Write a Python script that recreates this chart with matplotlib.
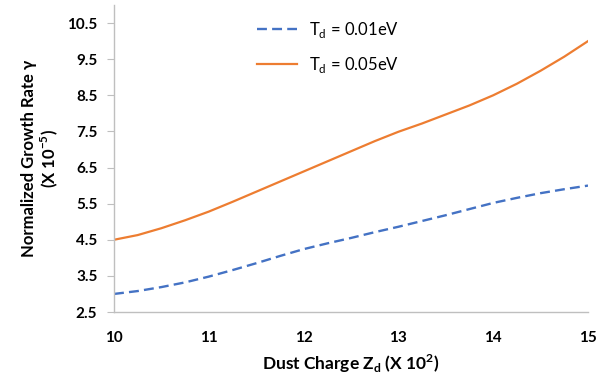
import matplotlib
matplotlib.use("Agg")
import matplotlib.pyplot as plt

plt.rcParams['font.family'] = ['Lato', 'DejaVu Sans']
plt.rcParams['mathtext.fontset'] = 'custom'
plt.rcParams['mathtext.rm'] = 'Lato'
plt.rcParams['mathtext.bf'] = 'Lato:bold'

zd = [10, 10.25, 10.5, 10.75, 11, 11.25, 11.5, 11.75, 12, 12.25, 12.5, 12.75,
      13, 13.25, 13.5, 13.75, 14, 14.25, 14.5, 14.75, 15]
rate_001 = [3.0, 3.08, 3.19, 3.32, 3.48, 3.66, 3.85, 4.05, 4.24, 4.40, 4.55, 4.71,
            4.86, 5.02, 5.18, 5.35, 5.52, 5.66, 5.79, 5.90, 6.0]
rate_005 = [4.5, 4.63, 4.82, 5.04, 5.28, 5.55, 5.83, 6.11, 6.39, 6.67, 6.95, 7.23,
            7.49, 7.72, 7.97, 8.22, 8.5, 8.82, 9.18, 9.57, 10.0]
yticks = [2.5, 3.5, 4.5, 5.5, 6.5, 7.5, 8.5, 9.5, 10.5]
xticks = [10, 11, 12, 13, 14, 15]

fig = plt.figure(figsize=(5.98, 3.78), dpi=100)
ax = fig.add_axes([114/598, 1-312/378, (588-114)/598, (312-5)/378])

ax.plot(zd, rate_001, color='#4472C4', lw=1.7, dashes=(4.2, 2.2),
        label=r'T$_\mathrm{d}$ = 0.01eV')
ax.plot(zd, rate_005, color='#ED7D31', lw=1.6,
        label=r'T$_\mathrm{d}$ = 0.05eV')

ax.set_xlim(10, 15)
ax.set_ylim(2.5, 11)
ax.set_xticks(xticks)
ax.set_yticks(yticks)
ax.set_xticklabels([str(t) for t in xticks], fontweight='bold', fontsize=11)
ax.set_yticklabels([f'{t:.1f}' for t in yticks], fontweight='bold', fontsize=11)
ax.tick_params(axis='x', length=0, pad=14)
ax.tick_params(axis='y', length=5, color='#bfbfbf', pad=7)

for s in ['top', 'right']:
    ax.spines[s].set_visible(False)
for s in ['left', 'bottom']:
    ax.spines[s].set_color('#bfbfbf')
    ax.spines[s].set_linewidth(1.0)

ax.set_xlabel(r'Dust Charge Z$_\mathbf{d}$ (X 10$^\mathbf{2}$)', fontweight='bold',
              fontsize=12.5, labelpad=5)
ax.set_ylabel('Normalized Growth Rate γ\n(X 10$^\\mathbf{-5}$)', fontweight='bold',
              fontsize=12, labelpad=5, linespacing=1.1)

leg = ax.legend(loc='upper left', bbox_to_anchor=(0.27, 1.0), frameon=False,
                fontsize=12, handlelength=2.4, handletextpad=0.7, labelspacing=0.9)

fig.savefig('out.png', dpi=100)
